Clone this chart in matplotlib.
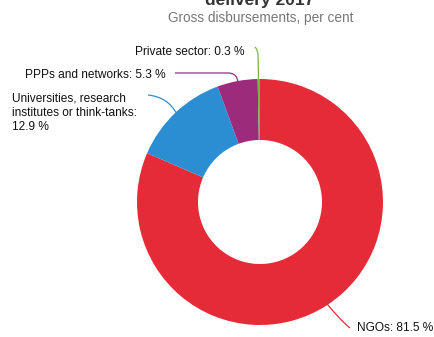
import numpy as np
import matplotlib
matplotlib.use("Agg")
import matplotlib.pyplot as plt
from matplotlib.path import Path
from matplotlib.patches import PathPatch

plt.rcParams['font.family'] = ['Liberation Sans', 'DejaVu Sans']

labels = ["NGOs: 81.5 %", "Universities, research\ninstitutes or think-tanks:\n12.9 %",
          "PPPs and networks: 5.3 %", "Private sector: 0.3 %"]
values = [81.5, 12.9, 5.3, 0.3]
colors = ["#E52B38", "#2B8ED2", "#9C2B7C", "#79B443"]

W, H = 435, 337
fig = plt.figure(figsize=(W / 100, H / 100), dpi=100)
ax = fig.add_axes([0, 0, 1, 1])

cx, cy, R = 260, H - 202, 123
wedges, _ = ax.pie(values, colors=colors, startangle=90, counterclock=False,
                   radius=R, center=(cx, cy), frame=True,
                   wedgeprops=dict(width=R - 62, linewidth=0))
ax.set_xlim(0, W)
ax.set_ylim(0, H)
ax.set_aspect("equal")
ax.axis("off")

def P(x, y):
    return (x, H - y)

def mid_point(w, r):
    a = np.deg2rad((w.theta1 + w.theta2) / 2)
    return cx + r * np.cos(a), cy + r * np.sin(a)

def leader(pts, color, codes):
    path = Path(pts, codes)
    ax.add_patch(PathPatch(path, fill=False, edgecolor=color, linewidth=0.9))

txt = dict(fontsize=8.6, va="center", ha="left", color="#111111")

# NGOs
x0, y0 = mid_point(wedges[0], R - 2)
leader([(x0, y0), P(340, 320), P(350, 328)], colors[0],
       [Path.MOVETO, Path.CURVE3, Path.CURVE3])
ax.text(*P(357, 328), labels[0], **txt)

# Universities
x1, y1 = mid_point(wedges[1], R - 2)
leader([(x1, y1), P(168, 97), P(148, 95)], colors[1],
       [Path.MOVETO, Path.CURVE3, Path.CURVE3])
ax.text(*P(12, 113), labels[1], linespacing=1.25, **txt)

# PPPs
x2, y2 = mid_point(wedges[2], R - 2)
leader([(x2, y2), P(238, 73), P(228, 73), P(175, 73)], colors[2],
       [Path.MOVETO, Path.CURVE3, Path.CURVE3, Path.LINETO])
ax.text(*P(25, 75), labels[2], **txt)

# Private sector
x3, y3 = mid_point(wedges[3], R - 30)
leader([(x3, y3), P(258, 55), P(258, 50), P(255, 47)], colors[3],
       [Path.MOVETO, Path.LINETO, Path.CURVE3, Path.CURVE3])
ax.text(*P(135, 52), labels[3], **txt)

# Titles (the main title is cut by the top edge, as in the reference)
fig.text(260 / W, 1 - 4.5 / H, "delivery 2017", fontsize=12.5, fontweight="bold",
         ha="center", va="baseline", color="#333333")
fig.text(261 / W, 1 - 18 / H, "Gross disbursements, per cent", fontsize=9.8,
         ha="center", va="center", color="#777777")

fig.savefig("out.png", dpi=100)
